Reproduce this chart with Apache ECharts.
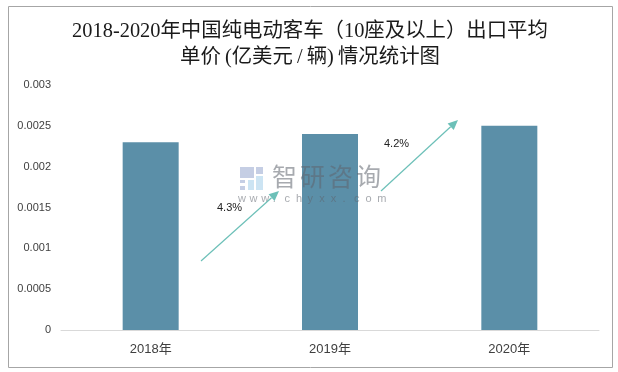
<!DOCTYPE html>
<html><head><meta charset="utf-8">
<style>html,body{margin:0;padding:0;background:#fff}#c{width:618px;height:372px}</style>
<script src="https://cdn.jsdelivr.net/npm/echarts@6/dist/echarts.min.js"></script>
</head><body><div id="c"></div>
<script>
const categories = ['2018年','2019年','2020年'];
const values = [0.0023,0.0024,0.0025];
const growthLabels = ['4.3%','4.2%'];
const titleLines = '2018-2020年中国纯电动客车（10座及以上）出口平均\n单价\u2009(亿美元\u2009/\u2009辆)\u2009情况统计图';
const yTicks = {0:'0',0.0005:'0.0005',0.001:'0.001',0.0015:'0.0015',0.002:'0.002',0.0025:'0.0025',0.003:'0.003'};
const watermarkCn = '智研咨询';
const watermarkEn = 'www.chyxx.com';
const chart = echarts.init(document.getElementById('c'),null,{renderer:'canvas'});
const teal='#6cc0b8';
function arrow(x1,y1,x2,y2){
  const a=Math.atan2(y2-y1,x2-x1),L=10,W=4.5;
  const bx=x2-L*Math.cos(a),by=y2-L*Math.sin(a);
  return [
    {type:'line',silent:true,z:20,shape:{x1,y1,x2:bx,y2:by},style:{stroke:teal,lineWidth:1.2}},
    {type:'polygon',silent:true,z:20,shape:{points:[[x2,y2],[bx-W*Math.sin(a),by+W*Math.cos(a)],[bx+W*Math.sin(a),by-W*Math.cos(a)]]},style:{fill:teal}}
  ];
}
const wmColor='rgba(95,100,110,0.55)';
const periwinkle='rgba(150,165,205,0.55)', sky='rgba(170,210,235,0.6)';
const logoRects=[[240,167,14,11,periwinkle],[240,180,5,3,periwinkle],[240,186,5,4,periwinkle],[248,180,6,10,sky],[256,167,7,7,periwinkle],[256,176,7,14,sky]];
chart.setOption({
  animation:false,
  backgroundColor:'#fff',
  title:{text:titleLines,left:305,top:14,textAlign:'center',
    textStyle:{fontFamily:'"Liberation Serif","Noto Sans CJK SC",serif',fontSize:20.4,fontWeight:'normal',color:'#1a1a1a',lineHeight:26}},
  grid:{left:61,right:19,top:85,bottom:42},
  xAxis:{type:'category',data:categories,
    axisLine:{lineStyle:{color:'#d9d9d9',width:1}},axisTick:{show:false},
    axisLabel:{color:'#404040',fontSize:13,margin:13,fontFamily:'"Liberation Sans","Noto Sans CJK SC",sans-serif'}},
  yAxis:{type:'value',min:0,max:0.003,interval:0.0005,
    axisLine:{show:false},axisTick:{show:false},splitLine:{show:false},
    axisLabel:{color:'#404040',fontSize:11,margin:10,fontFamily:'"Liberation Sans",sans-serif',formatter:v=>yTicks[+v.toFixed(4)]??String(v)}},
  series:[{type:'bar',data:values,barWidth:56,itemStyle:{color:'#5b8fa8'}}],
  graphic:[
    {type:'rect',silent:true,z:-1,shape:{x:8.5,y:6.5,width:604,height:361},style:{fill:'none',stroke:'#a6a6a6',lineWidth:1}},
    ...arrow(201,261,279,191),
    ...arrow(381,191,458,120),
    {type:'text',silent:true,z:21,left:217,top:202,style:{text:growthLabels[0],fill:'#222',font:'11px "Liberation Sans",sans-serif'}},
    {type:'text',silent:true,z:21,left:384,top:138,style:{text:growthLabels[1],fill:'#222',font:'11px "Liberation Sans",sans-serif'}},
    ...logoRects.map(([x,y,width,height,fill])=>({type:'rect',silent:true,z:15,shape:{x,y,width,height},style:{fill}})),
    ...[...watermarkCn].map((ch,i)=>({type:'text',silent:true,z:15,left:272+i*28,top:164,style:{text:ch,fill:wmColor,font:'25px "Noto Sans CJK SC",sans-serif'}})),
    ...[...watermarkEn].map((ch,i)=>({type:'text',silent:true,z:15,left:238+i*11.6,top:193,style:{text:ch,fill:wmColor,font:'11px "Liberation Sans",sans-serif'}}))
  ]
});
</script></body></html>
